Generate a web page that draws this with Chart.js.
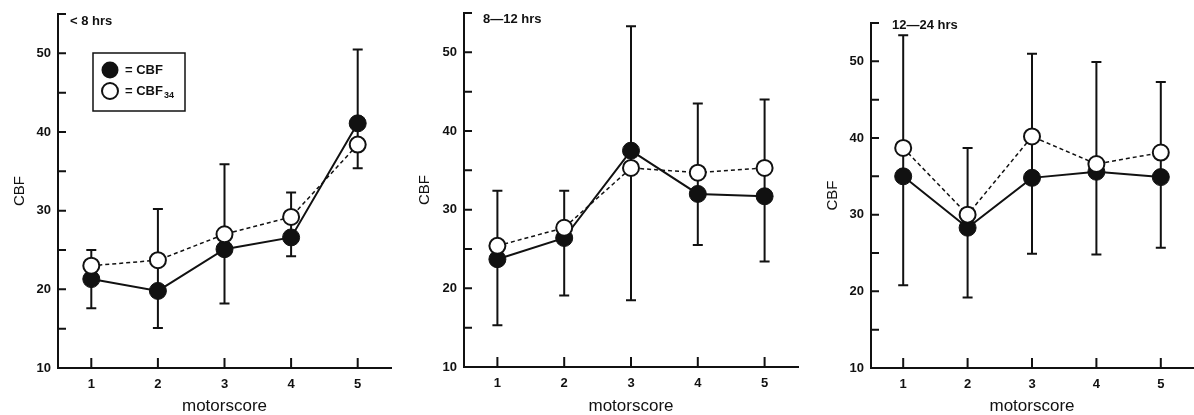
<!DOCTYPE html>
<html>
<head>
<meta charset="utf-8">
<script src="https://cdn.jsdelivr.net/npm/chart.js@4"></script>
<style>
  body { margin: 0; background: #fff; width: 1194px; height: 415px; position: relative; overflow: hidden; }
  canvas { position: absolute; top: 0; }
</style>
</head>
<body>
<canvas id="early" width="400" height="415" style="left:0px"></canvas>
<canvas id="mid" width="400" height="415" style="left:400px"></canvas>
<canvas id="late" width="394" height="415" style="left:800px"></canvas>
<script>
/* DATA */
const motorscore = [1, 2, 3, 4, 5];
const yTickValues = [10, 15, 20, 25, 30, 35, 40, 45, 50, 55];
const yTickLabels = ["10", "", "20", "", "30", "", "40", "", "50", ""];
const panelTitles = ["< 8 hrs", "8\u201412 hrs", "12\u201424 hrs"];

// < 8 hrs
const cbfEarly = [21.3, 19.8, 25.1, 26.6, 41.1];
const cbf34Early = [23.0, 23.7, 27.0, 29.2, 38.4];
const errTopEarly = [25.0, 30.2, 35.9, 32.3, 50.5];
const errBotEarly = [17.6, 15.1, 18.2, 24.2, 35.4];

// 8-12 hrs
const cbfMid = [23.7, 26.4, 37.5, 32.0, 31.7];
const cbf34Mid = [25.4, 27.7, 35.3, 34.7, 35.3];
const errTopMid = [32.4, 32.4, 53.3, 43.5, 44.0];
const errBotMid = [15.3, 19.1, 18.5, 25.5, 23.4];

// 12-24 hrs
const cbfLate = [35.0, 28.3, 34.8, 35.6, 34.9];
const cbf34Late = [38.7, 30.0, 40.2, 36.6, 38.1];
const errTopLate = [53.4, 38.7, 51.0, 49.9, 47.3];
const errBotLate = [20.8, 19.2, 24.9, 24.8, 25.7];

const INK = "#111";
const FONT = "'Liberation Sans', Arial, sans-serif";

/* PLUGIN: error bars, inward ticks, panel label, legend */
const sketchPlugin = {
  id: "sketch",
  beforeDatasetsDraw(chart, args, opts) {
    const { ctx, scales: { x, y } } = chart;
    ctx.save();
    ctx.strokeStyle = INK;
    ctx.lineWidth = 2;
    motorscore.forEach((m, i) => {
      const px = x.getPixelForValue(m);
      const t = y.getPixelForValue(opts.top[i]);
      const b = y.getPixelForValue(opts.bottom[i]);
      ctx.beginPath();
      ctx.moveTo(px, t); ctx.lineTo(px, b);
      ctx.moveTo(px - 5, t); ctx.lineTo(px + 5, t);
      ctx.moveTo(px - 5, b); ctx.lineTo(px + 5, b);
      ctx.stroke();
    });
    ctx.restore();
  },
  afterDraw(chart, args, opts) {
    const { ctx, chartArea: area, scales: { x, y } } = chart;
    ctx.save();
    ctx.strokeStyle = INK;
    ctx.lineWidth = 2;
    ctx.beginPath();
    y.ticks.forEach((t) => {
      const py = y.getPixelForValue(t.value);
      ctx.moveTo(area.left, py); ctx.lineTo(area.left + 8, py);
    });
    x.ticks.forEach((t) => {
      const px = x.getPixelForValue(t.value);
      ctx.moveTo(px, area.bottom); ctx.lineTo(px, area.bottom - 10);
    });
    ctx.stroke();

    // panel label
    ctx.fillStyle = INK;
    ctx.font = "bold 13px " + FONT;
    ctx.textBaseline = "middle";
    ctx.fillText(opts.title, area.left + opts.titleDx, opts.titleY);

    if (opts.legend) {
      ctx.lineWidth = 1.5;
      ctx.strokeRect(93, 53, 92, 58);
      ctx.beginPath();
      ctx.arc(110, 70, 8.5, 0, Math.PI * 2);
      ctx.fill();
      ctx.beginPath();
      ctx.lineWidth = 2;
      ctx.arc(110, 91, 8, 0, Math.PI * 2);
      ctx.fillStyle = "#fff";
      ctx.fill();
      ctx.stroke();
      ctx.fillStyle = INK;
      ctx.font = "bold 13px " + FONT;
      ctx.fillText("= CBF", 125, 70);
      ctx.fillText("= CBF", 125, 91);
      const w = ctx.measureText("= CBF").width;
      ctx.font = "bold 9px " + FONT;
      ctx.fillText("34", 125 + w + 1, 96);
    }
    ctx.restore();
  },
};

function makePanel(id, cbf, cbf34, top, bottom, title, lay) {
  const pts = (vals) => motorscore.map((m, i) => ({ x: m, y: vals[i] }));
  return new Chart(document.getElementById(id), {
    type: "line",
    data: {
      datasets: [
        {
          label: "CBF34",
          data: pts(cbf34),
          borderColor: INK,
          borderWidth: 1.5,
          borderDash: [4, 3],
          pointRadius: 8,
          pointBorderWidth: 2,
          pointBorderColor: INK,
          pointBackgroundColor: "#fff",
          order: 0,
        },
        {
          label: "CBF",
          data: pts(cbf),
          borderColor: INK,
          borderWidth: 2,
          pointRadius: 8.5,
          pointBorderWidth: 1,
          pointBorderColor: INK,
          pointBackgroundColor: INK,
          order: 1,
        },
      ],
    },
    options: {
      responsive: false,
      animation: false,
      layout: {
        autoPadding: false,
        padding: { left: lay.padLeft, right: lay.padRight, top: lay.padTop, bottom: 0 },
      },
      plugins: {
        legend: { display: false },
        tooltip: { enabled: false },
        sketch: { top, bottom, title, titleDx: lay.titleDx, titleY: lay.titleY, legend: lay.legend },
      },
      scales: {
        x: {
          type: "linear",
          min: 0.5,
          max: 5.5,
          afterBuildTicks: (s) => { s.ticks = motorscore.map((v) => ({ value: v })); },
          afterFit: (s) => {
            s.height = lay.xHeight;
            s.paddingLeft = 0;
            s.paddingRight = 0;
          },
          grid: { display: false, drawTicks: false },
          border: { display: true, color: INK, width: 2 },
          ticks: { color: INK, padding: 9, font: { family: FONT, size: 13, weight: "bold" } },
          title: {
            display: true,
            text: "motorscore",
            color: INK,
            font: { family: FONT, size: 17, lineHeight: 1 },
            padding: { top: 0, bottom: 0 },
          },
        },
        y: {
          type: "linear",
          min: 10,
          max: 55,
          afterBuildTicks: (s) => { s.ticks = yTickValues.map((v) => ({ value: v })); },
          afterFit: (s) => {
            s.width = lay.yWidth;
            s.paddingTop = 0;
            s.paddingBottom = 0;
          },
          grid: { display: false, drawTicks: false },
          border: { display: true, color: INK, width: 2 },
          ticks: {
            color: INK,
            padding: 7,
            autoSkip: false,
            font: { family: FONT, size: 13, weight: "bold" },
            callback: (v, i) => yTickLabels[i],
          },
          title: {
            display: true,
            text: "CBF",
            color: INK,
            font: { family: FONT, size: 15, lineHeight: 1 },
            padding: { top: 0, bottom: 0 },
          },
        },
      },
    },
    plugins: [sketchPlugin],
  });
}

makePanel("early", cbfEarly, cbf34Early, errTopEarly, errBotEarly, panelTitles[0],
  { padLeft: 12, yWidth: 46, padRight: 9, padTop: 14, xHeight: 47, titleDx: 12, titleY: 21, legend: true });
makePanel("mid", cbfMid, cbf34Mid, errTopMid, errBotMid, panelTitles[1],
  { padLeft: 17, yWidth: 47, padRight: 2, padTop: 13, xHeight: 48, titleDx: 19, titleY: 19, legend: false });
makePanel("late", cbfLate, cbf34Late, errTopLate, errBotLate, panelTitles[2],
  { padLeft: 25, yWidth: 46, padRight: 1, padTop: 23, xHeight: 47, titleDx: 21, titleY: 25, legend: false });
</script>
</body>
</html>
